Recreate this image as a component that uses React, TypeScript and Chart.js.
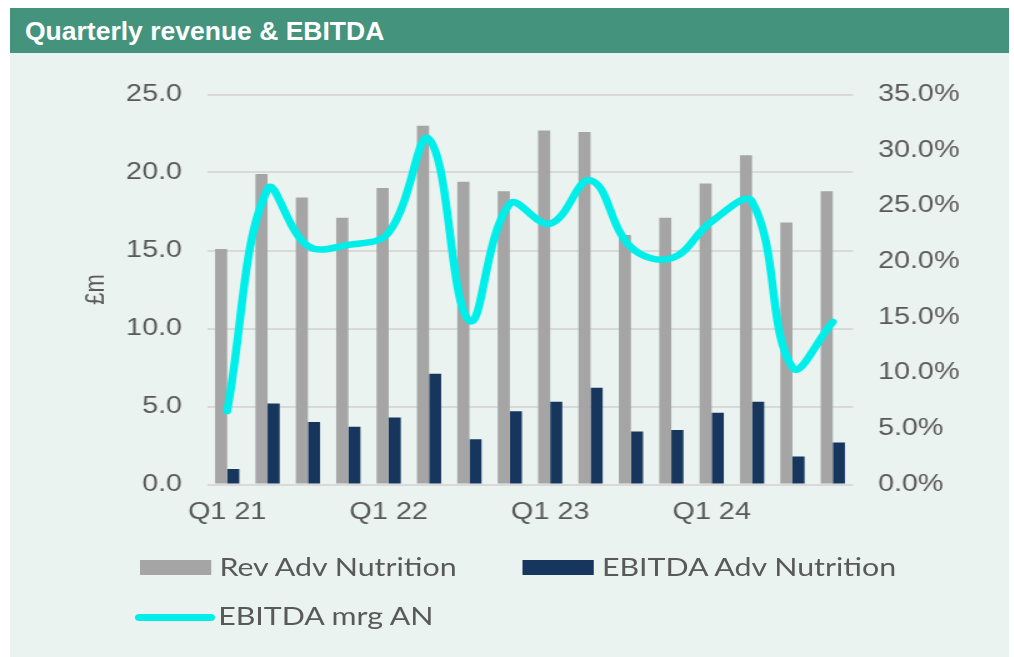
import React, { useEffect, useRef } from "react";
import { Chart, registerables } from "chart.js";

Chart.register(...registerables);

const quarters = [
  "Q1 21", "Q2 21", "Q3 21", "Q4 21",
  "Q1 22", "Q2 22", "Q3 22", "Q4 22",
  "Q1 23", "Q2 23", "Q3 23", "Q4 23",
  "Q1 24", "Q2 24", "Q3 24", "Q4 24",
];
const revenue = [15.1, 19.9, 18.4, 17.1, 19.0, 23.0, 19.4, 18.8, 22.7, 22.6, 16.0, 17.1, 19.3, 21.1, 16.8, 18.8];
const ebitda = [1.0, 5.2, 4.0, 3.7, 4.3, 7.1, 2.9, 4.7, 5.3, 6.2, 3.4, 3.5, 4.6, 5.3, 1.8, 2.7];
const marginPct = [6.6, 26.5, 21.4, 21.5, 22.6, 31.0, 14.7, 25.2, 23.4, 27.3, 21.3, 20.3, 23.6, 25.4, 10.5, 14.6];
const leftTicks = [0, 5, 10, 15, 20, 25];
const rightTicks = [0, 5, 10, 15, 20, 25, 30, 35];

const STRETCH = 1.25;
const CANVAS_W = 799;
const CANVAS_H = 476;
const TICK_COLOR = "#595959";
const TICK_FONT = { family: "'Liberation Sans', Arial, sans-serif", size: 23 };

export default function App() {
  const ref = useRef<HTMLCanvasElement | null>(null);

  useEffect(() => {
    if (!ref.current) return;
    const chart = new Chart(ref.current, {
      type: "bar",
      data: {
        labels: quarters,
        datasets: [
          {
            type: "line",
            label: "EBITDA mrg AN",
            data: marginPct,
            yAxisID: "y1",
            borderColor: "#00EEE9",
            borderWidth: 6.5,
            tension: 0.4,
            pointRadius: 0,
            borderCapStyle: "round",
            borderJoinStyle: "round",
            fill: false,
            order: 0,
          } as any,
          {
            type: "bar",
            label: "Rev Adv Nutrition",
            data: revenue,
            yAxisID: "y",
            backgroundColor: "#A5A5A5",
            categoryPercentage: 0.6,
            barPercentage: 1.0,
            order: 1,
          },
          {
            type: "bar",
            label: "EBITDA Adv Nutrition",
            data: ebitda,
            yAxisID: "y",
            backgroundColor: "#17365D",
            categoryPercentage: 0.6,
            barPercentage: 1.0,
            order: 2,
          },
        ],
      },
      options: {
        responsive: false,
        animation: false,
        devicePixelRatio: 1,
        layout: { padding: { top: 41.5, left: 0, right: 0, bottom: 0 } },
        plugins: { legend: { display: false }, tooltip: { enabled: false } },
        scales: {
          x: {
            grid: { display: false, drawTicks: false },
            border: { display: false },
            ticks: {
              autoSkip: false,
              maxRotation: 0,
              minRotation: 0,
              padding: 14,
              color: TICK_COLOR,
              font: TICK_FONT,
              callback: (_v: any, i: number) => (i % 4 === 0 ? quarters[i] : ""),
            },
            afterFit: (s: any) => {
              s.height = 44.5;
            },
          },
          y: {
            position: "left",
            min: leftTicks[0],
            max: leftTicks[leftTicks.length - 1],
            afterBuildTicks: (s: any) => {
              s.ticks = leftTicks.map((v) => ({ value: v }));
            },
            ticks: {
              padding: 20,
              color: TICK_COLOR,
              font: TICK_FONT,
              callback: (v: any) => Number(v).toFixed(1),
            },
            grid: { color: "#D9D9D9", lineWidth: 2, drawTicks: false },
            border: { display: false },
            title: {
              display: true,
              text: "£m",
              color: TICK_COLOR,
              font: { family: "'Liberation Sans', Arial, sans-serif", size: 22 },
              padding: { top: 55.5, bottom: 0 },
            },
            afterFit: (s: any) => {
              s.width = 157.6;
            },
          },
          y1: {
            position: "right",
            min: rightTicks[0],
            max: rightTicks[rightTicks.length - 1],
            afterBuildTicks: (s: any) => {
              s.ticks = rightTicks.map((v) => ({ value: v }));
            },
            ticks: {
              padding: 20,
              color: TICK_COLOR,
              font: TICK_FONT,
              callback: (v: any) => Number(v).toFixed(1) + "%",
            },
            grid: { display: false, drawTicks: false },
            border: { display: false },
            afterFit: (s: any) => {
              s.width = 124.6;
            },
          },
        },
      },
    });
    return () => chart.destroy();
  }, []);

  const legendText: React.CSSProperties = {
    position: "absolute",
    fontFamily: "Lato, 'Open Sans', sans-serif",
    fontSize: 24.3,
    lineHeight: "30px",
    height: 30,
    color: "#595959",
    whiteSpace: "nowrap",
  };

  return (
    <div style={{ position: "absolute", left: 0, top: 0, width: 1014, height: 657, background: "#FFFFFF", overflow: "hidden" }}>
      <div style={{ position: "absolute", left: 10, top: 8, width: 999, height: 649, background: "#EAF3F0" }} />
      <div
        style={{
          position: "absolute",
          left: 10,
          top: 8,
          width: 999,
          height: 45,
          background: "#43937D",
          color: "#FFFFFF",
          fontFamily: "'Liberation Sans', Arial, sans-serif",
          fontWeight: "bold",
          fontSize: 26.5,
          lineHeight: "46px",
          paddingLeft: 15,
          boxSizing: "border-box",
          whiteSpace: "nowrap",
        }}
      >
        Quarterly revenue &amp; EBITDA
      </div>
      <div
        style={{
          position: "absolute",
          left: 10,
          top: 53,
          width: CANVAS_W,
          height: 604,
          transform: `scaleX(${STRETCH})`,
          transformOrigin: "0 0",
        }}
      >
        <canvas ref={ref} width={CANVAS_W} height={CANVAS_H} style={{ position: "absolute", left: 0, top: 0 }} />
        <div style={{ position: "absolute", left: 104, top: 507, width: 57, height: 15, background: "#A5A5A5" }} />
        <div style={{ ...legendText, left: 167.5, top: 499 }}>Rev Adv Nutrition</div>
        <div style={{ position: "absolute", left: 410, top: 507, width: 57, height: 15, background: "#17365D" }} />
        <div style={{ ...legendText, left: 473.5, top: 499 }}>EBITDA Adv Nutrition</div>
        <div style={{ position: "absolute", left: 100, top: 560.5, width: 64, height: 7, borderRadius: 3.5, background: "#00EEE9" }} />
        <div style={{ ...legendText, left: 166.5, top: 547.5 }}>EBITDA mrg AN</div>
      </div>
    </div>
  );
}
